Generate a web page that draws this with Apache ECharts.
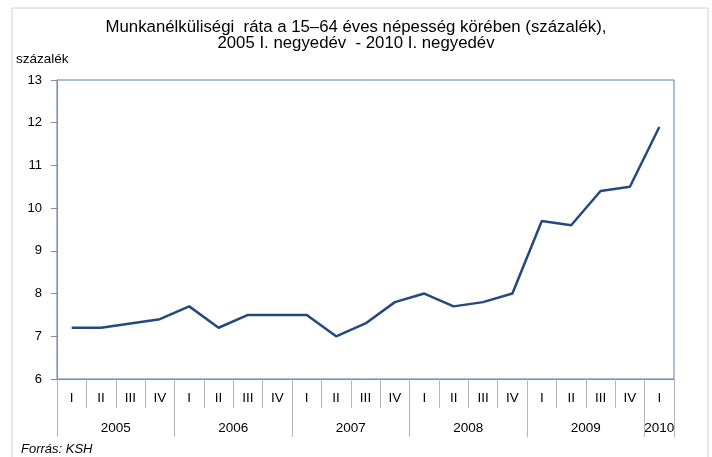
<!DOCTYPE html>
<html>
<head>
<meta charset="utf-8">
<script src="https://cdn.jsdelivr.net/npm/echarts@6/dist/echarts.min.js"></script>
<style>
  html, body { margin: 0; padding: 0; background: #fff; }
  #main { width: 712px; height: 457px; }
</style>
</head>
<body>
<div id="main"></div>
<script>
// quarters 2005 I - 2010 I
var quarters = ['I', 'II', 'III', 'IV', 'I', 'II', 'III', 'IV', 'I', 'II', 'III', 'IV',
  'I', 'II', 'III', 'IV', 'I', 'II', 'III', 'IV', 'I'];
var years = ['2005', '2006', '2007', '2008', '2009', '2010'];
var quartersPerYear = [4, 4, 4, 4, 4, 1];
var rate = [7.2, 7.2, 7.3, 7.4, 7.7, 7.2, 7.5, 7.5, 7.5, 7.0, 7.3, 7.8,
  8.0, 7.7, 7.8, 8.0, 9.7, 9.6, 10.4, 10.5, 11.9];
var yTicks = [6, 13, 1]; // min, max, step

// year row: half-quarter slots, label in the middle of each year, ticks on year borders
var yearSlots = [];
var yearBorders = [0];
var pos = 0;
for (var i = 0; i <= quarters.length * 2; i++) yearSlots.push('');
years.forEach(function (y, k) {
  yearSlots[pos * 2 + quartersPerYear[k]] = y;
  pos += quartersPerYear[k];
  yearBorders.push(pos * 2);
});

var font = 'Arial, "Liberation Sans", sans-serif';
var chart = echarts.init(document.getElementById('main'));
chart.setOption({
  animation: false,
  backgroundColor: '#fff',
  title: [{
    text: 'Munkanélküliségi  ráta a 15–64 éves népesség körében (százalék),\n2005 I. negyedév  - 2010 I. negyedév',
    left: 'center',
    top: 14,
    padding: [5, 0, 5, 14],
    textStyle: { fontFamily: font, fontSize: 16.8, fontWeight: 'normal', color: '#000', lineHeight: 16.5 }
  }, {
    text: 'százalék',
    left: 11,
    top: 47,
    textStyle: { fontFamily: font, fontSize: 13.5, fontWeight: 'normal', color: '#000' }
  }, {
    text: 'Forrás: KSH',
    left: 16,
    top: 438,
    textStyle: { fontFamily: font, fontSize: 13, fontWeight: 'normal', fontStyle: 'italic', color: '#000' }
  }],
  graphic: [{
    type: 'rect',
    shape: { x: 12, y: 8, width: 696, height: 470 },
    style: { fill: 'none', stroke: '#d0d0d0', lineWidth: 1 },
    silent: true
  }],
  grid: {
    left: 57, right: 38, top: 80, bottom: 78,
    show: true,
    borderColor: '#5b7fb3',
    borderWidth: 1
  },
  xAxis: [{
    type: 'category',
    data: quarters,
    boundaryGap: true,
    position: 'bottom',
    axisLine: { show: true, lineStyle: { color: '#8c8c8c', width: 1 } },
    axisTick: { show: true, interval: 0, length: 29, lineStyle: { color: '#b5b5b5' } },
    axisLabel: { interval: 0, margin: 12, fontFamily: font, fontSize: 13.5, color: '#000' },
    splitLine: { show: false }
  }, {
    type: 'category',
    data: yearSlots,
    boundaryGap: false,
    position: 'bottom',
    axisLine: { show: false },
    axisTick: {
      show: true, length: 58, lineStyle: { color: '#b5b5b5' },
      interval: function (idx) { return yearBorders.indexOf(idx) >= 0; }
    },
    axisLabel: { interval: 0, margin: 42, fontFamily: font, fontSize: 13.5, color: '#000' },
    splitLine: { show: false }
  }],
  yAxis: {
    type: 'value',
    min: yTicks[0],
    max: yTicks[1],
    interval: yTicks[2],
    axisLine: { show: true, lineStyle: { color: '#8c8c8c', width: 1 } },
    axisTick: { show: true, length: 6, lineStyle: { color: '#8c8c8c' } },
    axisLabel: { margin: 15, fontFamily: font, fontSize: 13, color: '#000' },
    splitLine: { show: false }
  },
  series: [{
    type: 'line',
    data: rate,
    xAxisIndex: 0,
    symbol: 'none',
    lineStyle: { color: '#23497f', width: 2.5 },
    itemStyle: { color: '#23497f' }
  }]
});
</script>
</body>
</html>
